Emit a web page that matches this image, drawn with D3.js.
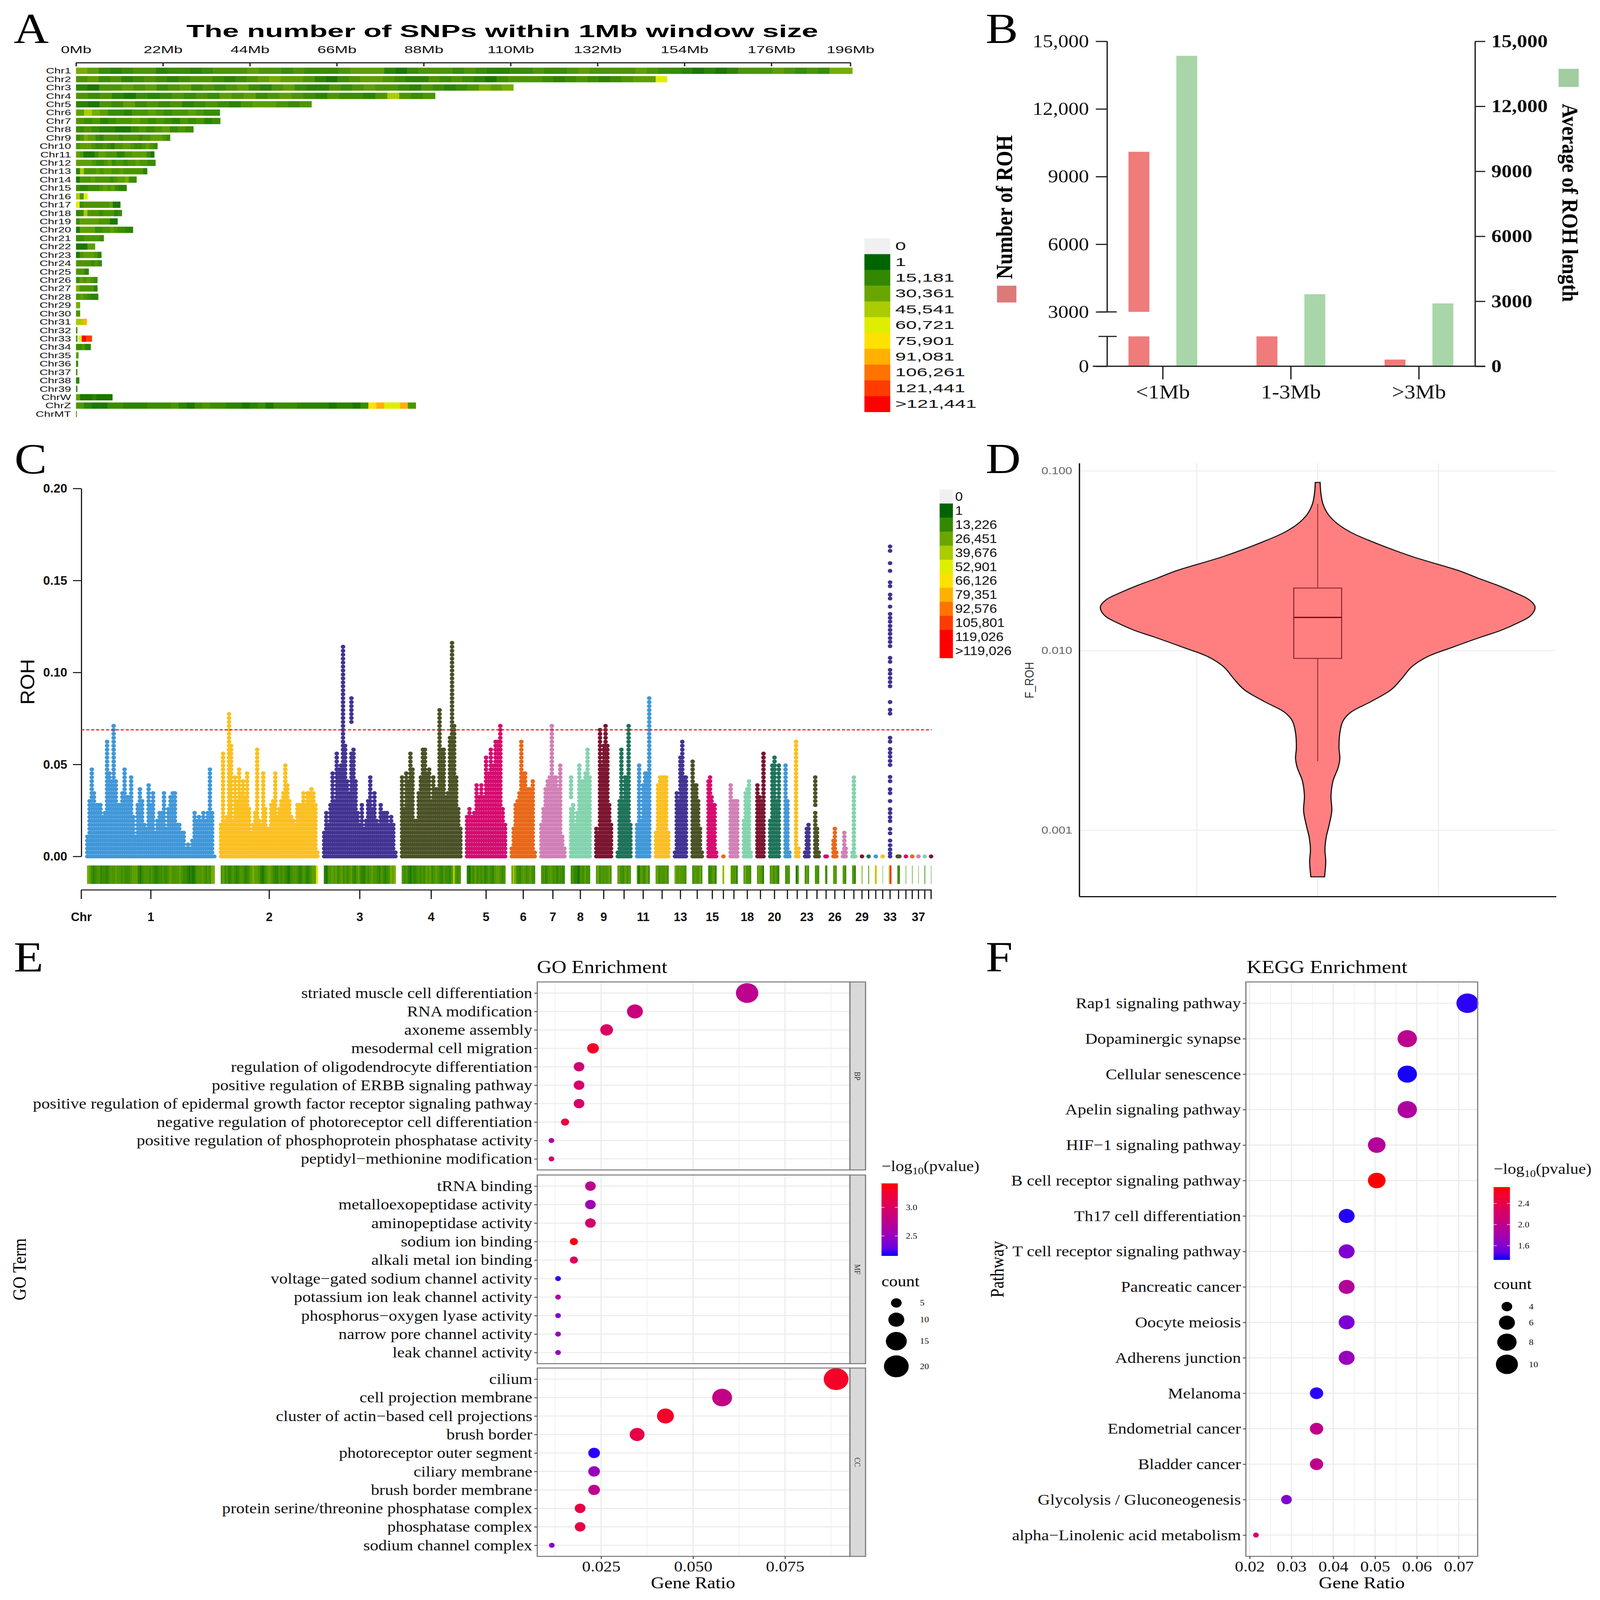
<!DOCTYPE html>
<html>
<head>
<meta charset="utf-8">
<script src="https://cdn.jsdelivr.net/npm/d3@7"></script>
<style>
  html, body { margin: 0; background: #fff; overflow: hidden; }
  svg { display: block; width: 100vw; height: 100vh; }
</style>
</head>
<body>
<div id="chart"></div>
<script>
// ---- panel A / C heat strips ----
const chrNames = ["Chr1","Chr2","Chr3","Chr4","Chr5","Chr6","Chr7","Chr8","Chr9","Chr10","Chr11","Chr12","Chr13","Chr14","Chr15","Chr16","Chr17","Chr18","Chr19","Chr20","Chr21","Chr22","Chr23","Chr24","Chr25","Chr26","Chr27","Chr28","Chr29","Chr30","Chr31","Chr32","Chr33","Chr34","Chr35","Chr36","Chr37","Chr38","Chr39","ChrW","ChrZ","ChrMT"];
const chrLengthMb = [196.5,149.6,110.7,90.9,59.6,36.4,36.5,29.7,23.8,20.6,19.8,20.1,18,15.3,12.8,2.9,11.2,11.6,10.5,14.4,7,4.8,6.4,6.5,3.2,5.4,5.4,5.6,1,1,2.7,0.3,4,3.7,0.6,0.5,0.3,0.8,0.3,9.2,86,0.15];
// one letter per window, shade looked up in shadeKeys/shadeCounts
const snpWindows = [
  "fecbcddbccbcdddeddcdcccdeeebacdddcdcbbccdccdeddddedccbababdddedcdcff",
  "decdbcdcbcddcbcdefeedbacdeedcbbdcdcbacdddcbcdcbcdeeh",
  "baddedecdecdcdecbdecbbdcdeddcbdcbcdfef",
  "dcdbacbcdcdcedecdedcbdccbdgdcd",
  "badcecdcdbcdcbdeedcd",
  "egfeccbddedcddedcc",
  "dcdbcddedcdcbdcdbc",
  "cdcbbaacdcdecdc",
  "cdfeecbddddcddddcddeeedc",
  "deeedccdcbddeedccdedc",
  "edaaaceedddbbddeeeeca",
  "eeeedccdecddcddeddcc",
  "bgdddedeeddedddddb",
  "adddeddddcdeefcc",
  "cbbcccdedecbb",
  "gdh",
  "hcdddddddeaa",
  "bcgdddcdddbc",
  "ceeeeedddaa",
  "aeeeeccddedccbb",
  "ccddddc",
  "aaaee",
  "adeeedb",
  "ddddcdc",
  "ddb",
  "cededc",
  "fddddb",
  "dedcbb",
  "f","d","gggjj","c","cxhhmmmllll","ccdbb","e","c","c","b","b",
  "eaaabaaaa",
  "dbaaccbbbcccdbacdccbbabcacccbbbbabbacijhhjd",
  "c"
];
const shadeKeys = "xabcdefghijklm".split("");
const shadeCounts = [0,8000,13000,17000,22000,27000,33000,45541,60721,75901,91081,106261,121441,135000];
const snpBreaks = [0,1,15181,30361,45541,60721,75901,91081,106261,121441,135000];
const snpColors = ["#f0f0f0","#006400","#338800","#6aa600","#aacc00","#dfee00","#ffe100","#ffb000","#ff7300","#ff3c00","#ff0000"];
const snpLegendA = ["0","1","15,181","30,361","45,541","60,721","75,901","91,081","106,261","121,441",">121,441"];
const snpTicksMb = [0,22,44,66,88,110,132,154,176,196];
const snpLegendC = ["0","1","13,226","26,451","39,676","52,901","66,126","79,351","92,576","105,801","119,026",">119,026"];
const snpLegendCColors = ["#f0f0f0","#006400","#338800","#6aa600","#aacc00","#dfee00","#ffe100","#ffb000","#ff7300","#ff3c00","#ff0000","#ff0000"];

// ---- panel B ----
const lengthClasses = ["<1Mb","1-3Mb",">3Mb"];
const rohCount = [10100,1500,336];
const rohAvgLength = [14330,3326,2902];
const bTicks = [0,3000,6000,9000,12000,15000];
const bTickLabels = ["0","3000","6000","9000","12,000","15,000"];

// ---- panel C: top of the dot stack, evenly spread over each chromosome ----
const rohPeaks = [
  [.011,.03,.048,.035,.029,.029,.029,.021,.024,.063,.045,.04,.072,.04,.028,.028,.035,.048,.033,.033,.043,.022,.01,.028,.037,.03,.018,.016,.039,.028,.035,.012,.019,.024,.024,.035,.015,.026,.032,.034,.034,.018,.017,.013,.012,.005,.007,.005,.009,.024,.02,.022,.02,.024,.02,.024,.048,.024,.001],
  [.018,.056,.019,.022,.078,.06,.02,.044,.03,.048,.035,.04,.033,.046,.025,.012,.018,.024,.059,.02,.017,.046,.026,.016,.016,.028,.03,.046,.022,.025,.03,.035,.05,.038,.03,.021,.02,.018,.027,.027,.027,.035,.028,.035,.035,.037,.035,.029,.003],
  [.012,.024,.018,.029,.046,.03,.056,.047,.05,.113,.06,.04,.035,.087,.058,.04,.024,.018,.027,.014,.02,.03,.044,.025,.035,.02,.018,.029,.024,.024,.024,.018,.022,.018,.002],
  [.044,.025,.046,.04,.055,.047,.02,.02,.035,.042,.059,.057,.046,.048,.03,.042,.037,.037,.08,.058,.058,.033,.035,.065,.117,.072,.043,.025,.014],
  [.022,.026,.022,.024,.039,.033,.039,.032,.053,.045,.059,.05,.063,.063,.072,.026,.018],
  [.005,.016,.027,.03,.034,.063,.045,.045,.036,.036,.036,.04,.002],
  [.018,.025,.037,.04,.042,.07,.042,.042,.036,.05,.01,.004],
  [.042,.027,.017,.024,.05,.04,.04,.045,.059,.042],
  [.014,.012,.068,.05,.06,.07,.06,.027,.018],
  [.002,.03,.059,.03,.042,.042,.07,.018],
  [.018,.05,.02,.039,.046,.046,.085],
  [.012,.039,.044,.044,.044,.044,.012],
  [.002,.034,.03,.054,.063,.042,.042],
  [.052,.038,.038,.031,.014,.003],
  [.04,.042,.033,.028,.029,.002],
  [.001],
  [.038,.03,.03,.031],
  [.019,.035,.036,.04,.003],
  [.038,.032,.03,.055],
  [.019,.05,.053,.03,.05],
  [.05,.03,.002],
  [.063,.004],
  [.002,.015,.018],
  [.044,.015,.003],
  [.001,.001],
  [.008,.016,.002],
  [.003,.012,.005],
  [.002,.042,.001],
  [.001],[.001],[.001],[.001],
  [],
  [.001,.001],
  [.001],[.001],[.001],[.001],[.001]
];
// chr33 is not a solid stack, its points are read one by one
const rohChr33 = [.1685,.1661,.1594,.1552,.149,.1469,.1423,.1402,.1358,.1318,.1297,.1276,.1253,.1231,.121,.1187,.1166,.1143,.1079,.1058,.1014,.0993,.097,.0948,.0925,.0839,.0797,.0776,.0645,.0624,.0584,.0563,.0542,.0519,.0497,.0432,.0409,.0365,.0344,.0301,.0257,.0236,.0213,.0192,.0149,.0126,.0086,.0061,.0038,.0017,0];
const rohGaps = [[2,13,.058,.0715],[7,0,.0265,.032],[23,0,.025,.0275]];
const rohThreshold = 0.0688;
const rohTicks = [0,0.05,0.1,0.15,0.2];
const rohLabelled = [1,2,3,4,5,6,7,8,9,11,13,15,18,20,23,26,29,33,37];
const rohPalette = ["#4197d8","#fac020","#423392","#4b5126","#d60b6f","#e8681a","#d080b6","#84d3ae","#7a1530","#1f7259"];

// ---- panel D ----
const violinF = [.0864,.075,.0656,.0574,.0511,.0455,.0406,.0335,.02786,.02535,.02314,.0209,.0195,.01835,.0175,.01648,.01545,.01442,.01295,.01194,.0104,.00926,.0081,.00695,.00607,.00521,.00455,.00406,.00348,.00287,.00251,.00224,.00188,.00155,.00128,.00106,.00091,.00078,.00067,.00055];
const violinDensity = [6,8,13,26,48,83,133,233,351,398,446,493,521,535,540,537,526,502,455,408,333,273,233,208,183,133,83,63,55,53,55,51,38,33,35,28,21,18,20,17];
const boxStats = {low:.00242, q1:.00905, median:.0153, q3:.0223, high:.0656};
const fTicks = [0.1,0.01,0.001];

// ---- panel E ----
const bpTerms = ["striated muscle cell differentiation","RNA modification","axoneme assembly","mesodermal cell migration","regulation of oligodendrocyte differentiation","positive regulation of ERBB signaling pathway","positive regulation of epidermal growth factor receptor signaling pathway","negative regulation of photoreceptor cell differentiation","positive regulation of phosphoprotein phosphatase activity","peptidyl−methionine modification"];
const bpRatio = [.0647,.0342,.0265,.0228,.019,.019,.019,.0152,.0115,.0115];
const bpCount = [17,10,7,6,5,5,5,4,3,3];
const bpLogP = [2.75,2.85,3.0,3.3,2.9,2.95,2.95,3.2,2.65,2.95];
const mfTerms = ["tRNA binding","metalloexopeptidase activity","aminopeptidase activity","sodium ion binding","alkali metal ion binding","voltage−gated sodium channel activity","potassium ion leak channel activity","phosphorus−oxygen lyase activity","narrow pore channel activity","leak channel activity"];
const mfRatio = [.0221,.0221,.0221,.0176,.0176,.0133,.0133,.0133,.0133,.0133];
const mfCount = [5,5,5,4,4,3,3,3,3,3];
const mfLogP = [2.75,2.55,2.95,3.4,3.05,2.18,2.65,2.4,2.5,2.5];
const ccTerms = ["cilium","cell projection membrane","cluster of actin−based cell projections","brush border","photoreceptor outer segment","ciliary membrane","brush border membrane","protein serine/threonine phosphatase complex","phosphatase complex","sodium channel complex"];
const ccRatio = [.0889,.0579,.0425,.0348,.0231,.0231,.0231,.0193,.0193,.0116];
const ccCount = [20,14,11,9,6,6,6,5,5,3];
const ccLogP = [3.3,2.8,3.3,3.15,2.17,2.5,2.75,3.15,3.15,2.4];
const goCountBreaks = [5,10,15,20];

// ---- panel F ----
const keggTerms = ["Rap1 signaling pathway","Dopaminergic synapse","Cellular senescence","Apelin signaling pathway","HIF−1 signaling pathway","B cell receptor signaling pathway","Th17 cell differentiation","T cell receptor signaling pathway","Pancreatic cancer","Oocyte meiosis","Adherens junction","Melanoma","Endometrial cancer","Bladder cancer","Glycolysis / Gluconeogenesis","alpha−Linolenic acid metabolism"];
const keggRatio = [.0721,.0577,.0577,.0577,.0504,.0504,.0432,.0432,.0432,.0432,.0432,.036,.036,.036,.0288,.0215];
const keggCount = [10,8,8,8,7,7,6,6,6,6,6,5,5,5,4,2];
const keggLogP = [1.36,1.98,1.34,1.88,1.92,2.7,1.35,1.6,1.91,1.58,1.72,1.36,2.0,2.0,1.6,2.2];
const keggCountBreaks = [4,6,8,10];

const SANS = "'Liberation Sans', Arial, sans-serif";
const SERIF = "'Liberation Serif', 'Times New Roman', serif";

// drawn in 4211x4766 units and fitted to whatever window the page gets
const svg = d3.select("#chart").append("svg")
  .attr("viewBox", "0 0 4211 4766")
  .attr("preserveAspectRatio", "none");
svg.append("rect").attr("width", 4211).attr("height", 4766).attr("fill", "#fff");
const defs = svg.append("defs");

// the figure's text was resized unevenly when it was assembled
function stretch(sel, k) {
  sel.each(function() {
    this.setAttribute("textLength", this.getComputedTextLength() * k);
    this.setAttribute("lengthAdjust", "spacingAndGlyphs");
  });
}

function label(txt, x, y, size, opts) {
  opts = opts || {};
  const t = svg.append("text")
    .attr("x", x).attr("y", y)
    .attr("font-family", opts.family || SERIF)
    .attr("font-size", size)
    .attr("font-weight", opts.weight || "normal")
    .attr("fill", opts.fill || "#000")
    .attr("text-anchor", opts.anchor || "start")
    .text(txt);
  if (opts.rotate) t.attr("transform", "rotate(" + opts.rotate + "," + x + "," + y + ")");
  return t;
}

[["A",36,128],["B",2594,128],["C",38,1410],["D",2594,1409],["E",36,2894],["F",2594,2894]]
  .forEach(function(d) { label(d[0], d[1], d[2], 128); });

const snpColor = d3.scaleLinear().domain(snpBreaks).range(snpColors).clamp(true);
function windowColor(ch) { return snpColor(shadeCounts[shadeKeys.indexOf(ch)]); }

// ================= A =================
(function() {
  const x = d3.scaleLinear().domain([0, 196]).range([200, 2238]);
  const y = d3.scaleBand().domain(chrNames).range([198.5, 1245.5]).paddingInner(0.25).paddingOuter(0.12);
  const g = svg.append("g");

  const ax = g.append("g").attr("transform", "translate(0,186.5)")
    .call(d3.axisTop(x).tickValues(snpTicksMb).tickFormat(function(d) { return d + "Mb"; }).tickSizeInner(-11).tickSizeOuter(0).tickPadding(28));
  ax.selectAll("path,line").attr("stroke", "#222").attr("stroke-width", 3.5);
  ax.selectAll("text").attr("font-family", SANS).attr("font-size", 29).attr("fill", "#111").call(stretch, 1.42);

  chrNames.forEach(function(name, i) {
    const keys = snpWindows[i].split("");
    const win = chrLengthMb[i] / keys.length;
    g.append("g").selectAll("rect").data(keys).join("rect")
      .attr("x", function(d, j) { return x(j * win); })
      .attr("width", function() { return x(win) - x(0) + 0.6; })
      .attr("y", y(name)).attr("height", y.bandwidth())
      .attr("fill", windowColor);
    g.append("text").attr("x", 187).attr("y", y(name) + y.bandwidth() / 2)
      .attr("dominant-baseline", "central").attr("text-anchor", "end")
      .attr("font-family", SANS).attr("font-size", 24).attr("fill", "#111")
      .text(name).call(stretch, 1.27);
  });

  const ly = d3.scaleBand().domain(snpLegendA).range([710, 1227]);
  g.append("g").selectAll("rect").data(snpLegendA).join("rect")
    .attr("x", 2275).attr("width", 68).attr("y", function(d) { return ly(d); }).attr("height", ly.bandwidth() + 0.5)
    .attr("fill", function(d, i) { return snpColors[i]; });
  g.append("g").selectAll("text").data(snpLegendA).join("text")
    .attr("x", 2356).attr("y", function(d) { return ly(d) + ly.bandwidth() / 2; })
    .attr("dominant-baseline", "central").attr("font-family", SANS).attr("font-size", 34).attr("fill", "#111")
    .text(function(d) { return d; }).call(stretch, 1.5);

  label("The number of SNPs within 1Mb window size", 1322, 110, 52, {family: SANS, weight: "bold", anchor: "middle"})
    .attr("textLength", 1663).attr("lengthAdjust", "spacingAndGlyphs");
})();

// ================= B =================
(function() {
  const x = d3.scalePoint().domain(lengthClasses).range([3060, 3734]);
  const yL = d3.scaleLinear().domain([0, 1500, 3000, 15000]).range([1091, 1002, 929, 123]);
  const yR = d3.scaleLinear().domain([0, 15000]).range([1091, 123]);
  const g = svg.append("g");
  const barW = 55;

  lengthClasses.forEach(function(c, i) {
    // lower and upper part of the broken left axis
    const parts = rohCount[i] > 3000 ? [[0, 1500], [3000, rohCount[i]]] : [[0, rohCount[i]]];
    parts.forEach(function(p) {
      g.append("rect").attr("x", x(c) - 62.5 - barW / 2).attr("width", barW)
        .attr("y", yL(p[1])).attr("height", yL(p[0]) - yL(p[1])).attr("fill", "#ef7b7b");
    });
    g.append("rect").attr("x", x(c) + 63.5 - barW / 2).attr("width", barW)
      .attr("y", yR(rohAvgLength[i])).attr("height", yR(0) - yR(rohAvgLength[i])).attr("fill", "#a9d6a8");
  });

  const stroke = "#222";
  const left = g.append("g").attr("transform", "translate(2914,0)")
    .call(d3.axisLeft(yL).tickValues(bTicks).tickFormat(function(d, i) { return bTickLabels[i]; }).tickSize(30).tickPadding(18));
  left.select(".domain").remove();
  left.selectAll("line").attr("stroke", stroke).attr("stroke-width", 3.5);
  left.selectAll("text").attr("font-family", SERIF).attr("font-size", 54).attr("fill", "#111");
  [[0, 1500], [3000, 15000]].forEach(function(p) {
    g.append("line").attr("x1", 2914).attr("x2", 2914).attr("y1", yL(p[0])).attr("y2", yL(p[1])).attr("stroke", stroke).attr("stroke-width", 3.5);
  });
  [1500, 3000].forEach(function(v) {
    g.append("line").attr("x1", 2891).attr("x2", 2939).attr("y1", yL(v)).attr("y2", yL(v)).attr("stroke", stroke).attr("stroke-width", 3.5);
  });

  const right = g.append("g").attr("transform", "translate(3882,0)")
    .call(d3.axisRight(yR).tickValues(bTicks).tickFormat(function(d, i) { return bTickLabels[i]; }).tickSize(27).tickSizeOuter(0).tickPadding(16));
  right.selectAll("path,line").attr("stroke", stroke).attr("stroke-width", 3.5);
  right.selectAll("text").attr("font-family", SERIF).attr("font-size", 54).attr("font-weight", "bold").attr("fill", "#111");

  const bottom = g.append("g").attr("transform", "translate(0,1091)")
    .call(d3.axisBottom(x).tickSize(39).tickSizeOuter(0).tickPadding(16));
  bottom.select(".domain").remove();
  bottom.selectAll("line").attr("stroke", stroke).attr("stroke-width", 3.5);
  bottom.selectAll("text").attr("font-family", SERIF).attr("font-size", 58).attr("fill", "#111");
  g.append("line").attr("x1", 2876).attr("x2", 3909).attr("y1", 1091).attr("y2", 1091).attr("stroke", stroke).attr("stroke-width", 3.5);

  g.append("rect").attr("x", 2624).attr("y", 851).attr("width", 51).attr("height", 50).attr("fill", "#dc7a7a");
  g.append("rect").attr("x", 4102).attr("y", 205).attr("width", 53).attr("height", 54).attr("fill", "#a1cda0");
  label("Number of ROH", 2664, 617, 60, {weight: "bold", anchor: "middle", rotate: -90});
  label("Average of ROH length", 4112, 604, 59, {weight: "bold", anchor: "middle", rotate: 90});
})();

// ================= C =================
(function() {
  const g = svg.append("g");
  const PX_PER_MB = 1.71, GAP = 15.7, X0 = 229;
  const n = rohPeaks.length;
  const lens = chrLengthMb.slice(0, n);
  // genome position with a fixed gap between the chromosomes
  const starts = [];
  lens.reduce(function(acc, l, i) { starts[i] = acc; return acc + l * PX_PER_MB + GAP; }, X0);
  const ends = starts.map(function(s, i) { return s + lens[i] * PX_PER_MB; });
  const mids = starts.map(function(s, i) { return (s + ends[i]) / 2; });

  const y = d3.scaleLinear().domain([0, 0.2]).range([2551, 1455]);
  const STEP = 0.00215;

  const yAxis = g.append("g").attr("transform", "translate(214,0)")
    .call(d3.axisLeft(y).tickValues(rohTicks).tickFormat(d3.format(".2f")).tickSize(22).tickSizeOuter(0).tickPadding(15));
  yAxis.selectAll("path,line").attr("stroke", "#111").attr("stroke-width", 3);
  yAxis.selectAll("text").attr("font-family", SANS).attr("font-weight", "bold").attr("font-size", 37).attr("fill", "#111").call(stretch, 0.88);

  const dots = [];
  rohPeaks.forEach(function(peaks, i) {
    const cx = d3.scaleLinear().domain([0, Math.max(peaks.length - 1, 1)])
      .range(peaks.length > 1 ? [starts[i] + 1, ends[i] - 1] : [mids[i], mids[i]]);
    peaks.forEach(function(h, j) {
      d3.range(0, h + STEP * 0.5, STEP).forEach(function(v) {
        const skip = rohGaps.some(function(q) { return q[0] === i && q[1] === j && v > q[2] && v < q[3]; });
        if (!skip) dots.push({chr: i, x: cx(j), v: v});
      });
    });
  });
  rohChr33.forEach(function(v) { dots.push({chr: 32, x: mids[32], v: v}); });

  g.append("g").selectAll("circle").data(dots).join("circle")
    .attr("cx", function(d) { return d.x; })
    .attr("cy", function(d) { return y(d.v); })
    .attr("r", 6)
    .attr("fill", function(d) { return rohPalette[d.chr % rohPalette.length]; });

  g.append("line").attr("x1", 214).attr("x2", 2452).attr("y1", y(rohThreshold)).attr("y2", y(rohThreshold))
    .attr("stroke", "#f01020").attr("stroke-width", 3).attr("stroke-dasharray", "8,5");

  // density strip, same windows as panel A
  rohPeaks.forEach(function(peaks, i) {
    const keys = snpWindows[i].split("");
    const w = lens[i] * PX_PER_MB / keys.length;
    g.append("g").selectAll("rect").data(keys).join("rect")
      .attr("x", function(d, j) { return starts[i] + j * w; })
      .attr("width", w + 0.4)
      .attr("y", 2578).attr("height", 55)
      .attr("fill", windowColor);
  });

  const xAxisScale = d3.scaleOrdinal().domain(d3.range(n)).range(mids);
  const xg = g.append("g").attr("transform", "translate(0,2651)");
  xg.append("line").attr("x1", 214).attr("x2", 2452).attr("stroke", "#111").attr("stroke-width", 3);
  xg.append("line").attr("x1", 214).attr("x2", 214).attr("y2", 27).attr("stroke", "#111").attr("stroke-width", 3);
  xg.selectAll("line.t").data(d3.range(n)).join("line").attr("class", "t")
    .attr("x1", xAxisScale).attr("x2", xAxisScale).attr("y2", 27).attr("stroke", "#111").attr("stroke-width", 3);
  xg.selectAll("text.c").data(rohLabelled).join("text").attr("class", "c")
    .attr("x", function(d) { return xAxisScale(d - 1); }).attr("y", 80)
    .attr("dominant-baseline", "central").attr("text-anchor", "middle")
    .attr("font-family", SANS).attr("font-weight", "bold").attr("font-size", 36).attr("fill", "#111")
    .text(function(d) { return d; }).call(stretch, 0.88);
  xg.append("text").attr("x", 214).attr("y", 80).attr("dominant-baseline", "central").attr("text-anchor", "middle")
    .attr("font-family", SANS).attr("font-weight", "bold").attr("font-size", 36).attr("fill", "#111").text("Chr").call(stretch, 0.88);

  label("ROH", 90, 2031, 52, {family: SANS, anchor: "middle", rotate: -90}).attr("textLength", 136).attr("lengthAdjust", "spacingAndGlyphs");

  const ly = d3.scaleBand().domain(snpLegendC).range([1458, 1960]);
  g.append("g").selectAll("rect").data(snpLegendC).join("rect")
    .attr("x", 2473).attr("width", 35).attr("y", function(d) { return ly(d); }).attr("height", ly.bandwidth() + 0.5)
    .attr("fill", function(d, i) { return snpLegendCColors[i]; });
  g.append("g").selectAll("text").data(snpLegendC).join("text")
    .attr("x", 2514).attr("y", function(d) { return ly(d) + ly.bandwidth() / 2; })
    .attr("dominant-baseline", "central").attr("font-family", SANS).attr("font-size", 36).attr("fill", "#111")
    .text(function(d) { return d; });
})();

// ================= D =================
(function() {
  const g = svg.append("g");
  const y = d3.scaleLog().domain([0.1, 0.001]).range([1403, 2473]);
  const cx = 3468;
  const w = d3.scaleLinear().domain([0, 540]).range([0, 572]);

  [3150, 3468, 3786].forEach(function(x) {
    g.append("line").attr("x1", x).attr("x2", x).attr("y1", 1380).attr("y2", 2671).attr("stroke", "#eeeeee").attr("stroke-width", 3);
  });
  fTicks.forEach(function(v) {
    g.append("line").attr("x1", 2841).attr("x2", 4096).attr("y1", y(v)).attr("y2", y(v)).attr("stroke", "#eeeeee").attr("stroke-width", 3);
  });

  const axis = g.append("g").attr("transform", "translate(2841,0)")
    .call(d3.axisLeft(y).tickValues(fTicks).tickFormat(d3.format(".3f")).tickSize(0).tickPadding(19));
  axis.select(".domain").remove();
  axis.selectAll("text").attr("font-family", SANS).attr("font-size", 29).attr("fill", "#666").call(stretch, 1.12);

  const area = d3.area()
    .y(function(d) { return y(d[0]); })
    .x0(function(d) { return cx - w(d[1]); })
    .x1(function(d) { return cx + w(d[1]); })
    .curve(d3.curveCatmullRom);
  g.append("path").datum(d3.zip(violinF, violinDensity)).attr("d", area)
    .attr("fill", "#ff7f80").attr("stroke", "#111").attr("stroke-width", 3);

  const boxW = 63, dark = "#8c1c24";
  g.append("line").attr("x1", cx).attr("x2", cx).attr("y1", y(boxStats.high)).attr("y2", y(boxStats.q3)).attr("stroke", dark).attr("stroke-width", 2);
  g.append("line").attr("x1", cx).attr("x2", cx).attr("y1", y(boxStats.q1)).attr("y2", y(boxStats.low)).attr("stroke", dark).attr("stroke-width", 2);
  g.append("rect").attr("x", cx - boxW).attr("width", boxW * 2).attr("y", y(boxStats.q3)).attr("height", y(boxStats.q1) - y(boxStats.q3))
    .attr("fill", "none").attr("stroke", dark).attr("stroke-width", 2.5);
  g.append("line").attr("x1", cx - boxW).attr("x2", cx + boxW).attr("y1", y(boxStats.median)).attr("y2", y(boxStats.median)).attr("stroke", "#8b0000").attr("stroke-width", 4);

  g.append("line").attr("x1", 2841).attr("x2", 2841).attr("y1", 1380).attr("y2", 2671).attr("stroke", "#111").attr("stroke-width", 3.5);
  g.append("line").attr("x1", 2841).attr("x2", 4096).attr("y1", 2671).attr("y2", 2671).attr("stroke", "#111").attr("stroke-width", 3.5);
  label("F_ROH", 2720, 2026, 32, {family: SANS, fill: "#333", anchor: "middle", rotate: -90});
})();

// ================= E / F shared bits =================
const BORDER = "#7a7a7a", GRID = "#ebebeb";

function dotPanel(g, o) {
  // o: terms, ratio, count, logp, x, size, color, top, bottom, left, right, minorTicks, majorTicks
  const y = d3.scalePoint().domain(o.terms).range([o.top, o.bottom]).padding(0.6);
  o.minorTicks.forEach(function(v) {
    g.append("line").attr("x1", o.x(v)).attr("x2", o.x(v)).attr("y1", o.top).attr("y2", o.bottom).attr("stroke", GRID).attr("stroke-width", 1.5);
  });
  o.majorTicks.forEach(function(v) {
    g.append("line").attr("x1", o.x(v)).attr("x2", o.x(v)).attr("y1", o.top).attr("y2", o.bottom).attr("stroke", GRID).attr("stroke-width", 3);
  });
  o.terms.forEach(function(t) {
    g.append("line").attr("x1", o.left).attr("x2", o.right).attr("y1", y(t)).attr("y2", y(t)).attr("stroke", GRID).attr("stroke-width", 3);
  });
  g.append("g").selectAll("circle").data(o.terms).join("circle")
    .attr("cx", function(d, i) { return o.x(o.ratio[i]); })
    .attr("cy", function(d) { return y(d); })
    .attr("r", function(d, i) { return o.size(o.count[i]); })
    .attr("fill", function(d, i) { return o.color(o.logp[i]); });
  g.append("rect").attr("x", o.left).attr("y", o.top).attr("width", o.right - o.left).attr("height", o.bottom - o.top)
    .attr("fill", "none").attr("stroke", BORDER).attr("stroke-width", 3);
  const ax = g.append("g").attr("transform", "translate(" + o.left + ",0)")
    .call(d3.axisLeft(y).tickSize(8).tickPadding(5));
  ax.select(".domain").remove();
  ax.selectAll("line").attr("stroke", "#444").attr("stroke-width", 2.5);
  ax.selectAll("text").attr("font-family", SERIF).attr("font-size", o.labelSize).attr("fill", "#111");
}

function colorBar(g, id, color, x, top, bottom, ticks, fmt) {
  const dom = color.domain();
  const grad = defs.append("linearGradient").attr("id", id).attr("x1", 0).attr("x2", 0).attr("y1", 1).attr("y2", 0);
  d3.range(0, 1.001, 0.1).forEach(function(t) {
    grad.append("stop").attr("offset", t).attr("stop-color", color(dom[0] + t * (dom[1] - dom[0])));
  });
  const y = d3.scaleLinear().domain(dom).range([bottom, top]);
  g.append("rect").attr("x", x).attr("y", top).attr("width", 43).attr("height", bottom - top).attr("fill", "url(#" + id + ")");
  ticks.forEach(function(v) {
    g.append("line").attr("x1", x).attr("x2", x + 8).attr("y1", y(v)).attr("y2", y(v)).attr("stroke", "#fff").attr("stroke-width", 1.5);
    g.append("line").attr("x1", x + 35).attr("x2", x + 43).attr("y1", y(v)).attr("y2", y(v)).attr("stroke", "#fff").attr("stroke-width", 1.5);
    g.append("text").attr("x", x + 64).attr("y", y(v)).attr("dominant-baseline", "central")
      .attr("font-family", SERIF).attr("font-size", 24).attr("fill", "#111").text(fmt(v));
  });
}

function logTitle(g, x, y) {
  const t = g.append("text").attr("x", x).attr("y", y).attr("font-family", SERIF).attr("font-size", 44).attr("fill", "#111");
  t.append("tspan").text("−log");
  t.append("tspan").attr("font-size", 30).attr("dy", 10).text("10");
  t.append("tspan").attr("dy", -10).text("(pvalue)");
}

function sizeLegend(g, breaks, size, cx, ys, lx) {
  breaks.forEach(function(c, i) {
    g.append("circle").attr("cx", cx).attr("cy", ys[i]).attr("r", size(c)).attr("fill", "#000");
    g.append("text").attr("x", lx).attr("y", ys[i]).attr("dominant-baseline", "central")
      .attr("font-family", SERIF).attr("font-size", 24).attr("fill", "#111").text(c);
  });
}

// ================= E =================
(function() {
  const g = svg.append("g");
  const x = d3.scaleLinear().domain([0.025, 0.075]).range([1582, 2066]);
  const size = d3.scaleLinear().domain([3, 5, 10, 15, 20]).range([7.5, 14, 21, 27.5, 32.6]);
  const color = d3.scaleSequential(d3.interpolateLab("blue", "red")).domain([2.15, 3.42]);
  const left = 1414, right = 2237, stripR = 2278;
  const facets = [
    {name: "BP", terms: bpTerms, ratio: bpRatio, count: bpCount, logp: bpLogP, top: 2925, bottom: 3485},
    {name: "MF", terms: mfTerms, ratio: mfRatio, count: mfCount, logp: mfLogP, top: 3500, bottom: 4062},
    {name: "CC", terms: ccTerms, ratio: ccRatio, count: ccCount, logp: ccLogP, top: 4075, bottom: 4636}
  ];
  facets.forEach(function(f) {
    dotPanel(g, Object.assign({}, f, {x: x, size: size, color: color, left: left, right: right, labelSize: 44.5,
      majorTicks: [0.025, 0.05, 0.075], minorTicks: [0.0125, 0.0375, 0.0625, 0.0875]}));
    g.append("rect").attr("x", right).attr("y", f.top).attr("width", stripR - right).attr("height", f.bottom - f.top)
      .attr("fill", "#d9d9d9").attr("stroke", BORDER).attr("stroke-width", 3);
    g.append("text").attr("transform", "translate(2256," + (f.top + f.bottom) / 2 + ") rotate(90)")
      .attr("text-anchor", "middle").attr("dominant-baseline", "central")
      .attr("font-family", SERIF).attr("font-size", 21).attr("fill", "#333").text(f.name);
  });
  const ax = g.append("g").attr("transform", "translate(0,4636)")
    .call(d3.axisBottom(x).tickValues([0.025, 0.05, 0.075]).tickFormat(d3.format(".3f")).tickSize(8).tickPadding(5));
  ax.select(".domain").remove();
  ax.selectAll("line").attr("stroke", "#444").attr("stroke-width", 2.5);
  ax.selectAll("text").attr("font-family", SERIF).attr("font-size", 45).attr("fill", "#111");

  label("GO Enrichment", 1413, 2898, 54);
  label("Gene Ratio", 1824, 4731, 49, {anchor: "middle"});
  label("GO Term", 68, 3781, 49, {anchor: "middle", rotate: -90});
  logTitle(g, 2320, 3488);
  colorBar(g, "goBar", color, 2320, 3525, 3741, [2.5, 3.0], d3.format(".1f"));
  label("count", 2320, 3832, 45);
  sizeLegend(g, goCountBreaks, size, 2359, [3881, 3931, 3995, 4070], 2421);
})();

// ================= F =================
(function() {
  const g = svg.append("g");
  const x = d3.scaleLinear().domain([0.02, 0.07]).range([3289, 3839]);
  const size = d3.scaleLinear().domain([2, 4, 6, 8, 10]).range([7.5, 14, 21, 25.5, 29]);
  const color = d3.scaleSequential(d3.interpolateLab("blue", "red")).domain([1.33, 2.71]);
  dotPanel(g, {terms: keggTerms, ratio: keggRatio, count: keggCount, logp: keggLogP, x: x, size: size, color: color,
    top: 2925, bottom: 4636, left: 3279, right: 3889, labelSize: 45,
    majorTicks: [0.02, 0.03, 0.04, 0.05, 0.06, 0.07], minorTicks: [0.025, 0.035, 0.045, 0.055, 0.065]});
  const ax = g.append("g").attr("transform", "translate(0,4636)")
    .call(d3.axisBottom(x).tickValues([0.02, 0.03, 0.04, 0.05, 0.06, 0.07]).tickFormat(d3.format(".2f")).tickSize(8).tickPadding(5));
  ax.select(".domain").remove();
  ax.selectAll("line").attr("stroke", "#444").attr("stroke-width", 2.5);
  ax.selectAll("text").attr("font-family", SERIF).attr("font-size", 45).attr("fill", "#111");

  label("KEGG Enrichment", 3281, 2898, 55);
  label("Gene Ratio", 3584, 4731, 50, {anchor: "middle"});
  label("Pathway", 2641, 3781, 49, {anchor: "middle", rotate: -90});
  logTitle(g, 3931, 3496);
  colorBar(g, "keggBar", color, 3931, 3536, 3753, [1.6, 2.0, 2.4], d3.format(".1f"));
  label("count", 3931, 3840, 45);
  sizeLegend(g, keggCountBreaks, size, 3966, [3892, 3940, 3998, 4064], 4024);
})();
</script>
</body>
</html>
